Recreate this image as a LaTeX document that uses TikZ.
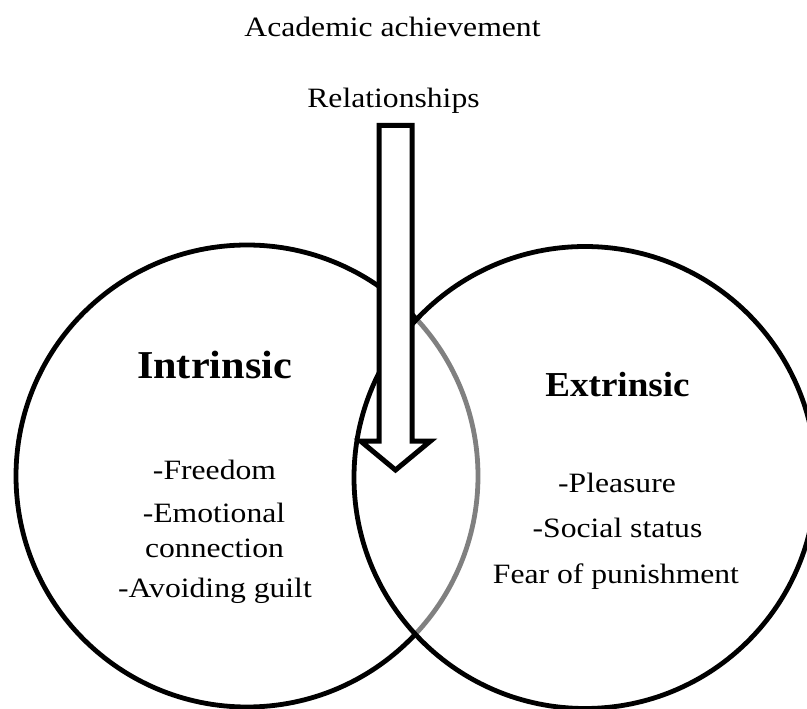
\documentclass[tikz,border=0pt]{standalone}
\usepackage{fontspec}
\usepackage{graphicx}
\setmainfont{Liberation Serif}
\newcommand{\hstretch}[2]{\scalebox{#1}[1]{#2}}
\newcommand{\txt}[1]{\fontsize{28}{32}\selectfont\hstretch{1.13}{#1}}
\begin{document}
\begin{tikzpicture}[x=1pt,y=-1pt,
  ring/.style={draw=black,line width=4.8pt},
  blockarrow/.style={draw=black,line width=5pt,fill=white,line join=miter},
  label/.style={inner sep=0pt,anchor=base}]
\clip (0,0) rectangle (807,709);
\fill[white] (0,0) rectangle (807,709);
% circles
\draw[ring] (247,476) circle [radius=231];
\draw[ring,fill=white,fill opacity=0.5] (585,477.5) circle [radius=231];
% block arrow
\draw[blockarrow] (379,125.5) -- (412,125.5) -- (412,441) -- (430.5,441)
  -- (395.5,470) -- (360.5,441) -- (379,441) -- cycle;
% texts
\node[label] (acad) at (392.5,37) {\txt{Academic achievement}};
\node[label] (rel) at (393.5,108) {\txt{Relationships}};
\node[label] (intr) at (214.5,378) {\fontsize{39.5}{44}\selectfont\bfseries\hstretch{1.07}{Intrinsic}};
\node[label] (extr) at (617.5,396) {\fontsize{35}{40}\selectfont\bfseries\hstretch{1.06}{Extrinsic}};
\node[label] (free) at (214.5,479.3) {\txt{-Freedom}};
\node[label] (emo) at (214,522.7) {\txt{-Emotional}};
\node[label] (conn) at (214.5,557) {\txt{connection}};
\node[label] (guilt) at (215,597) {\txt{-Avoiding guilt}};
\node[label] (plea) at (617,492) {\txt{-Pleasure}};
\node[label] (soc) at (617.5,537.5) {\txt{-Social status}};
\node[label] (fear) at (616,583) {\txt{Fear of punishment}};
\end{tikzpicture}
\end{document}
